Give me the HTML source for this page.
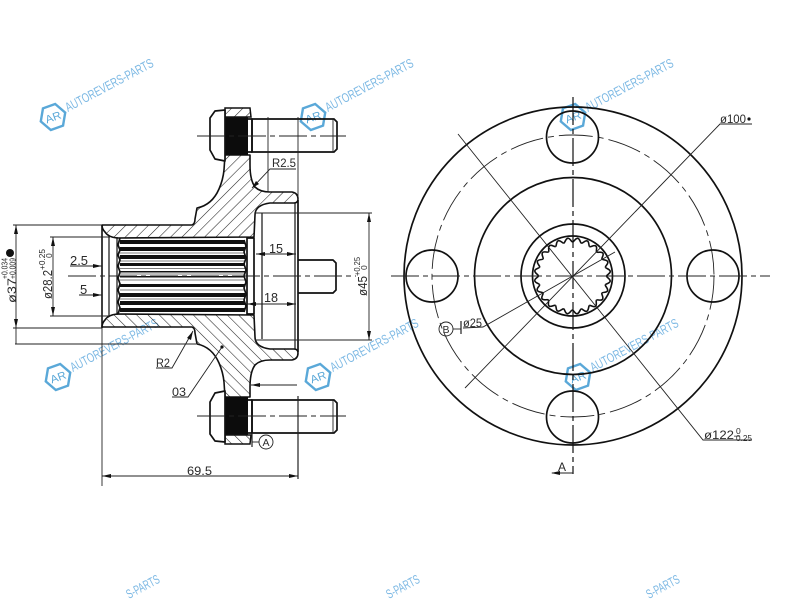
<!DOCTYPE html>
<html><head><meta charset="utf-8"><style>
html,body{margin:0;padding:0;background:#fff;width:800px;height:600px;overflow:hidden}
svg{display:block;filter:blur(.35px)}
text{font-family:"Liberation Sans",sans-serif;fill:#2a2a2a}
.k{stroke:#111;stroke-width:1.7;fill:none;stroke-linejoin:round}
.t{stroke:#222;stroke-width:.9;fill:none}
.c{stroke:#222;stroke-width:1;fill:none;stroke-dasharray:28 4 5 4}
.a{fill:#111;stroke:none}
</style></head><body>
<svg width="800" height="600" viewBox="0 0 800 600" xmlns="http://www.w3.org/2000/svg">
<defs>
<pattern id="h" width="8" height="8" patternUnits="userSpaceOnUse" patternTransform="rotate(-45)">
<line x1="0" y1="0" x2="8" y2="0" stroke="#222" stroke-width="1.1"/>
</pattern>
<g id="half">
<path d="M102 225L192 225Q195 224 195 219L197 208Q212 205 219 189Q223 180 224 170L225 155L250 155L250 165Q250 180 255 187Q260 192 270 192L292 192Q298 193 298 199Q298 203 294 203L270 203Q255 205 255 215L254 237L117 238Q108 237 105 232Q102 229 102 225Z" fill="url(#h)" stroke="#111" stroke-width="1.6" stroke-linejoin="round"/>
<rect x="225" y="117" width="23" height="38" fill="#0c0c0c"/>
<path d="M225 108L250 108L251 117L225 117Z" fill="url(#h)" stroke="#111" stroke-width="1.5"/>
<path d="M225 110L215 111L210 118L210 150L215 159L225 161Z" fill="#fff" stroke="#111" stroke-width="1.7" stroke-linejoin="round"/>
<path d="M248 119L252 119L252 152L248 152" class="k" stroke-width="2"/>
<path d="M252 119L334 119L337 122L337 149L334 152L252 152Z" fill="none" stroke="#111" stroke-width="1.7"/>
<line x1="333" y1="119" x2="333" y2="152" class="t"/>
<line x1="197" y1="136" x2="346" y2="136" class="c"/>
</g>
<g id="w">
<path d="M-13 0L-6.5 -11.5L6.5 -11.5L13 0L6.5 11.5L-6.5 11.5Z" transform="rotate(-20)" fill="none" stroke="#5aa8d8" stroke-width="2.4"/>
<text x="0" y="4" text-anchor="middle" font-size="11" transform="rotate(-20)" style="fill:#5aa8d8" textLength="16" lengthAdjust="spacingAndGlyphs">AR</text>
<text x="15" y="-5" font-size="13" transform="rotate(-28 15 -5)" style="fill:#7db9e4" textLength="98" lengthAdjust="spacingAndGlyphs">AUTOREVERS-PARTS</text>
</g>
<path id="tooth" d="M0 -34C1.5 -34 2.5 -37.5 4.96 -37.67S7.5 -33.5 8.8 -32.84" fill="none" stroke="#111" stroke-width="1.6"/>
</defs>

<!-- watermark -->
<use href="#w" x="53" y="117"/><use href="#w" x="313" y="117"/><use href="#w" x="573" y="117"/>
<use href="#w" x="58" y="377"/><use href="#w" x="318" y="377"/><use href="#w" x="578" y="377"/>
<g font-size="13" style="fill:#7db9e4">
<text style="fill:#7db9e4" transform="translate(129,599) rotate(-28)" textLength="36" lengthAdjust="spacingAndGlyphs">S-PARTS</text>
<text style="fill:#7db9e4" transform="translate(389,599) rotate(-28)" textLength="36" lengthAdjust="spacingAndGlyphs">S-PARTS</text>
<text style="fill:#7db9e4" transform="translate(649,599) rotate(-28)" textLength="36" lengthAdjust="spacingAndGlyphs">S-PARTS</text>
</g>

<!-- left view -->
<use href="#half"/>
<use href="#half" transform="translate(0,552) scale(1,-1)"/>

<!-- splines -->
<g fill="#111">
<rect x="120" y="240" width="125" height="4"/><rect x="120" y="247" width="125" height="4"/>
<rect x="120" y="255" width="125" height="4"/><rect x="120" y="263" width="125" height="3"/>
<rect x="120" y="271" width="125" height="1.5"/><rect x="120" y="276" width="125" height="1.5"/>
<rect x="120" y="284" width="125" height="3"/><rect x="120" y="293" width="125" height="4"/>
<rect x="120" y="301" width="125" height="4"/><rect x="120" y="308" width="125" height="4"/>
</g>
<g stroke="#555" stroke-width=".8">
<line x1="120" y1="253" x2="245" y2="253"/><line x1="120" y1="261" x2="245" y2="261"/>
<line x1="120" y1="268.5" x2="245" y2="268.5"/><line x1="120" y1="274" x2="245" y2="274"/>
<line x1="120" y1="280" x2="245" y2="280"/><line x1="120" y1="290" x2="245" y2="290"/>
<line x1="120" y1="299" x2="245" y2="299"/>
</g>
<path class="k" d="M120 238L118 245L120 250L118 255L120 260L118 266L120 272L118 278L120 284L118 290L120 296L118 302L120 308L118 314"/>
<path class="k" d="M244 240L246 246L244 252L246 258L244 264L246 270L244 276L246 282L244 288L246 294L244 300L246 306L244 312"/>
<line x1="102" y1="225" x2="102" y2="328" stroke="#111" stroke-width="1.6"/>
<line x1="109" y1="235" x2="109" y2="317" stroke="#111" stroke-width="1.2"/>
<line x1="117" y1="237" x2="117" y2="315" stroke="#111" stroke-width="1.2"/>
<path class="k" d="M247 238L254 238L254 314L247 314Z" stroke-width="2.2"/>
<line x1="262" y1="213" x2="262" y2="339" stroke="#111" stroke-width="1.2"/>
<line x1="295" y1="203" x2="295" y2="349" stroke="#111" stroke-width="1.2"/>
<line x1="298" y1="200" x2="298" y2="352" stroke="#111" stroke-width="1.7"/>
<path class="k" d="M298 260L333 260L336 263L336 290L333 293L298 293"/>
<line x1="68" y1="276" x2="356" y2="276" class="c"/>

<!-- left dims -->
<g class="t">
<line x1="13" y1="225" x2="102" y2="225"/>
<line x1="13" y1="328" x2="102" y2="328"/>
<line x1="15" y1="344" x2="196" y2="344"/>
<line x1="16" y1="225" x2="16" y2="344"/>
<line x1="50" y1="237" x2="110" y2="237"/>
<line x1="50" y1="316" x2="110" y2="316"/>
<line x1="53" y1="237" x2="53" y2="316"/>
<line x1="70" y1="266" x2="102" y2="266"/>
<line x1="79" y1="295" x2="102" y2="295"/>
<line x1="102" y1="328" x2="102" y2="486"/>
<line x1="298" y1="396" x2="298" y2="479" stroke-width="1.2"/>
<line x1="102" y1="476" x2="298" y2="476"/>
<line x1="268" y1="117" x2="268" y2="192"/>
<line x1="298" y1="117" x2="298" y2="200"/>
<line x1="255" y1="213" x2="372" y2="213"/>
<line x1="255" y1="340" x2="372" y2="340"/>
<line x1="369" y1="213" x2="369" y2="340"/>
<line x1="256" y1="254" x2="296" y2="254"/>
<line x1="247" y1="304" x2="296" y2="304"/>
<line x1="251" y1="385" x2="297" y2="385"/>
<polyline points="252,188 270,169 296,169"/>
<polyline points="193,331 172,368 156,368"/>
<polyline points="222,347 188,397 172,397"/>
<line x1="252" y1="442" x2="259" y2="442"/>
<line x1="252" y1="434" x2="252" y2="447" stroke-width="1.2"/>
<circle cx="266" cy="442" r="7"/>
</g>
<g class="a">
<polygon points="16,225 14,234 18,234"/><polygon points="16,328 14,319 18,319"/>
<polygon points="53,237 51,246 55,246"/><polygon points="53,316 51,307 55,307"/>
<polygon points="102,266 93,264 93,268"/><polygon points="102,295 93,293 93,297"/>
<polygon points="102,476 111,474 111,478"/><polygon points="298,476 289,474 289,478"/>
<polygon points="369,213 367,222 371,222"/><polygon points="369,340 367,331 371,331"/>
<polygon points="256,254 265,252 265,256"/><polygon points="296,254 287,252 287,256"/>
<polygon points="247,304 256,302 256,306"/><polygon points="296,304 287,302 287,306"/>
<polygon points="251,385 260,383 260,387"/>
<polygon points="252,188 259,184 256,181"/>
<polygon points="193,331 187,338 191,340"/>
<circle cx="222" cy="347" r="1.6"/>
<circle cx="10" cy="253" r="4"/>
</g>
<text x="70" y="265" font-size="13" textLength="18" lengthAdjust="spacingAndGlyphs">2.5</text>
<text x="80" y="294" font-size="13">5</text>
<text x="269" y="253" font-size="13" textLength="14" lengthAdjust="spacingAndGlyphs">15</text>
<text x="264" y="302" font-size="13" textLength="14" lengthAdjust="spacingAndGlyphs">18</text>
<text x="272" y="167" font-size="12" textLength="24" lengthAdjust="spacingAndGlyphs">R2.5</text>
<text x="156" y="367" font-size="12" textLength="14" lengthAdjust="spacingAndGlyphs">R2</text>
<text x="172" y="396" font-size="12" textLength="14" lengthAdjust="spacingAndGlyphs">03</text>
<text x="187" y="475" font-size="12" textLength="25" lengthAdjust="spacingAndGlyphs">69.5</text>
<text x="266" y="446" font-size="10.5" text-anchor="middle">A</text>
<text transform="translate(16,303) rotate(-90)" font-size="12" textLength="25" lengthAdjust="spacingAndGlyphs">ø37</text>
<text transform="translate(7.5,279) rotate(-90)" font-size="8.5" textLength="21" lengthAdjust="spacingAndGlyphs">+0.034</text>
<text transform="translate(15.5,279) rotate(-90)" font-size="8.5" textLength="21" lengthAdjust="spacingAndGlyphs">+0.009</text>
<text transform="translate(52,299) rotate(-90)" font-size="13" textLength="29" lengthAdjust="spacingAndGlyphs">ø28.2</text>
<text transform="translate(45,270) rotate(-90)" font-size="8.5" textLength="21" lengthAdjust="spacingAndGlyphs">+0.25</text>
<text transform="translate(52,258) rotate(-90)" font-size="8.5">0</text>
<text transform="translate(367,296) rotate(-90)" font-size="13" textLength="20" lengthAdjust="spacingAndGlyphs">ø45</text>
<text transform="translate(360,276) rotate(-90)" font-size="8.5" textLength="19" lengthAdjust="spacingAndGlyphs">+0.25</text>
<text transform="translate(367,270) rotate(-90)" font-size="8.5">0</text>

<!-- right view -->
<circle cx="573" cy="276" r="169" class="k"/>
<circle cx="573" cy="276" r="141" class="t" stroke-dasharray="34 5 6 5"/>
<circle cx="573" cy="276" r="98.5" class="k"/>
<circle cx="573" cy="276" r="52" class="k"/>
<circle cx="572.5" cy="276" r="40" class="k" stroke-width="1.4"/>
<g transform="translate(572.5,276)">
<use href="#tooth"/><use href="#tooth" transform="rotate(15)"/><use href="#tooth" transform="rotate(30)"/><use href="#tooth" transform="rotate(45)"/><use href="#tooth" transform="rotate(60)"/><use href="#tooth" transform="rotate(75)"/><use href="#tooth" transform="rotate(90)"/><use href="#tooth" transform="rotate(105)"/><use href="#tooth" transform="rotate(120)"/><use href="#tooth" transform="rotate(135)"/><use href="#tooth" transform="rotate(150)"/><use href="#tooth" transform="rotate(165)"/><use href="#tooth" transform="rotate(180)"/><use href="#tooth" transform="rotate(195)"/><use href="#tooth" transform="rotate(210)"/><use href="#tooth" transform="rotate(225)"/><use href="#tooth" transform="rotate(240)"/><use href="#tooth" transform="rotate(255)"/><use href="#tooth" transform="rotate(270)"/><use href="#tooth" transform="rotate(285)"/><use href="#tooth" transform="rotate(300)"/><use href="#tooth" transform="rotate(315)"/><use href="#tooth" transform="rotate(330)"/><use href="#tooth" transform="rotate(345)"/>
</g>
<circle cx="572.5" cy="137" r="26" class="k"/>
<circle cx="572.5" cy="417" r="26" class="k"/>
<circle cx="432" cy="276" r="26" class="k"/>
<circle cx="713" cy="276" r="26" class="k"/>
<line x1="391" y1="276" x2="770" y2="276" class="c"/>
<line x1="573" y1="97" x2="573" y2="474" stroke="#111" stroke-width="1.2" stroke-dasharray="28 4 5 4"/>
<g class="t">
<polyline points="752,124 720,124 465,388"/>
<polyline points="458,134 703,440 752,440"/>
<polyline points="615,252 483,327 463,328"/>
<line x1="453" y1="329" x2="461" y2="329"/>
<line x1="461" y1="321" x2="461" y2="334" stroke-width="1.2"/>
<circle cx="446" cy="329" r="7"/>
<line x1="573" y1="473" x2="552" y2="473"/>
</g>
<polygon class="a" points="551,473 560,471 560,475"/>
<text x="720" y="123" font-size="12" textLength="26" lengthAdjust="spacingAndGlyphs">ø100</text>
<circle cx="749" cy="119" r="1.6" class="a"/>
<text x="704" y="439" font-size="12" textLength="30" lengthAdjust="spacingAndGlyphs">ø122</text>
<text x="734" y="439" font-size="11">–</text>
<text x="736" y="434" font-size="8.5">0</text>
<text x="736" y="441" font-size="8.5" textLength="16" lengthAdjust="spacingAndGlyphs">0.25</text>
<text x="463" y="327" font-size="12" textLength="19" lengthAdjust="spacingAndGlyphs">ø25</text>
<text x="446" y="333" font-size="10.5" text-anchor="middle">B</text>
<text x="558" y="471" font-size="12">A</text>
</svg>
</body></html>
